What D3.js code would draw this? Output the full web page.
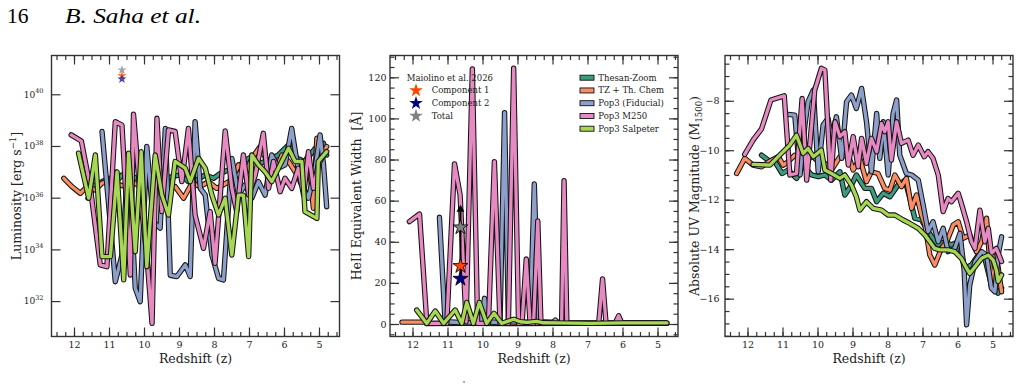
<!DOCTYPE html>
<html>
<head>
<meta charset="utf-8">
<script src="https://cdn.jsdelivr.net/npm/d3@7"></script>
<style>
    body { margin: 0; background: #fff; }
    svg { display: block; font-family: 'DejaVu Serif', serif; }
</style>
</head>
<body>
<div id="chart"></div>
<script>
/* Series and tick values */
const simNames = ['Thesan-Zoom', 'TZ + Th. Chem', 'Pop3 (Fiducial)', 'Pop3 M250', 'Pop3 Salpeter'];
const simColors = ['#3d9b7f', '#fc8d62', '#8da0cb', '#e78ac3', '#a6d854'];

const zTicks = [12, 11, 10, 9, 8, 7, 6, 5];
const lumTickExp = [32, 34, 36, 38, 40];
const ewTicks = [0, 20, 40, 60, 80, 100, 120];
const muvTicks = [-8, -10, -12, -14, -16];

// Maiolino et al. 2026 components
const obsZ = 10.63;
const obsNames = ['Component 1', 'Component 2', 'Total'];
const obsColors = ['#ff4500', '#00008b', '#808080'];
const obsLogL = [40.72, 40.59, 40.94];
const obsEW = [28.2, 22, 47];
const obsArrowEW = [22, 58];

// log10 luminosity [erg/s] vs redshift
const lumTZ = [[11.6,35.98],[11.39,36.5],[11.2,36.62],[11.01,36.75],[10.82,36.56],[10.63,36.88],[10.39,36.69],[10.15,36.82],[9.92,36.62],[9.68,36.75],[9.44,36.69],[9.2,36.82],[8.96,36.88],[8.73,36.62],[8.49,36.69],[8.25,36.88],[8.01,36.75],[7.82,36.94],[7.59,37.07],[7.35,37.07],[7.16,37.4],[6.92,37.59],[6.68,37.33],[6.44,37.46],[6.16,37.65],[5.87,38.04],[5.63,37.52],[5.4,37.4],[5.11,37.91],[4.87,38.1],[4.78,37.65]];
const lumChem = [[12.29,36.75],[12.06,36.43],[11.82,36.17],[11.63,36.43],[11.39,36.3],[11.2,36.56],[10.96,36.65],[10.72,36.5],[10.49,36.43],[10.25,36.56],[10.06,36.36],[9.82,36.5],[9.58,36.62],[9.35,36.36],[9.11,36.43],[8.87,35.98],[8.63,36.56],[8.39,36.43],[8.16,36.62],[7.92,36.36],[7.73,36.5],[7.49,36.69],[7.3,37.27],[7.11,36.88],[6.92,37.52],[6.68,37.98],[6.44,37.27],[6.25,37.0],[6.06,37.65],[5.87,37.4],[5.68,37.0],[5.49,37.14],[5.3,37.65],[5.16,35.59],[5.06,38.3],[4.92,37.65],[4.78,37.98]];
const lumFid = [[11.2,38.56],[11.01,35.72],[10.82,32.75],[10.63,33.78],[10.44,37.52],[10.25,32.5],[10.11,31.98],[9.92,37.98],[9.73,35.07],[9.54,34.82],[9.39,38.68],[9.25,33.0],[9.06,32.95],[8.82,33.4],[8.68,32.95],[8.54,38.94],[8.39,36.36],[8.25,36.1],[8.06,33.78],[7.87,32.88],[7.73,32.82],[7.49,37.52],[7.3,36.1],[7.11,36.5],[6.92,35.98],[6.73,36.62],[6.54,36.1],[6.35,37.65],[6.16,37.14],[5.97,37.27],[5.78,38.68],[5.54,36.62],[5.3,35.98],[5.11,37.14],[4.97,38.43],[4.87,37.27],[4.78,35.65]];
const lumM250 = [[12.08,38.43],[11.79,38.19],[11.53,36.36],[11.25,33.4],[11.06,33.33],[10.82,38.94],[10.63,38.81],[10.39,33.01],[10.3,39.23],[10.11,36.1],[9.92,33.78],[9.77,31.14],[9.63,39.07],[9.49,35.46],[9.3,38.62],[9.11,38.56],[8.92,36.62],[8.73,38.68],[8.54,35.33],[8.3,34.04],[8.11,35.46],[7.97,33.46],[7.68,38.58],[7.49,36.36],[7.35,35.46],[7.16,37.65],[7.01,36.1],[6.82,36.88],[6.59,38.49],[6.44,36.36],[6.3,37.4],[6.11,36.23],[5.97,36.75],[5.78,36.36],[5.59,37.14],[5.44,36.1],[5.3,37.78],[5.16,36.36],[5.02,37.27],[4.87,37.65]];
const lumSalp = [[11.87,37.72],[11.58,35.98],[11.39,37.65],[11.2,33.72],[10.96,33.72],[10.77,37.0],[10.58,32.82],[10.44,37.72],[10.25,33.91],[10.08,37.78],[9.92,33.33],[9.68,37.65],[9.49,36.1],[9.3,35.33],[9.11,37.4],[8.82,37.14],[8.68,36.62],[8.44,37.52],[8.25,37.14],[8.06,36.1],[7.87,35.33],[7.68,35.98],[7.49,33.78],[7.3,36.1],[7.16,36.1],[7.01,33.72],[6.92,37.65],[6.73,37.27],[6.54,37.0],[6.35,36.62],[6.16,37.14],[5.97,37.65],[5.87,37.91],[5.68,37.4],[5.49,37.4],[5.4,35.46],[5.06,35.2],[5.02,37.4],[4.78,37.78]];

// HeII equivalent width [A] vs redshift
const ewTZ = [[11.6,0.2],[10.5,0.3],[9,0.2],[7.5,0.3],[6,0.3],[4.75,0.3]];
const ewChem = [[12.3,0.9],[11.65,0.9],[11.5,0.4],[9,0.3],[7,0.4],[4.75,0.4]];
const ewFid = [[11.23,51.9],[11.07,1.1],[10.5,0.6],[10.05,0.8],[9.94,12.5],[9.83,1.1],[9.5,0.6],[9.37,102.8],[9.26,1.1],[8.64,0.8],[8.52,68.1],[8.4,1.1],[7.5,0.5],[6.5,0.4],[5.5,0.5],[4.75,0.4]];
const ewM250 = [[12.09,49.8],[11.8,53.5],[11.59,0.3],[11.02,0.3],[10.8,77.9],[10.64,62.8],[10.47,1.1],[10.29,124.1],[10.14,0.3],[9.83,0.3],[9.66,79],[9.5,0.3],[9.26,0.3],[9.11,124.4],[8.97,0.3],[8.87,0.3],[8.75,31.6],[8.64,0.3],[8.54,0.3],[8.42,50.1],[8.33,0.3],[8.02,0.3],[7.92,1.9],[7.83,0.3],[7.74,0.3],[7.67,69.7],[7.59,0.3],[6.68,0.3],[6.57,21.9],[6.47,0.3],[6.21,0.3],[6.11,4],[6.02,0.3],[4.73,0.3]];
const ewSalp = [[11.88,6.8],[11.59,0.3],[11.35,6.3],[11.11,0.3],[10.78,6.8],[10.59,0.3],[10.45,10.5],[10.26,0.3],[10.09,10.5],[9.88,0.3],[9.67,5.2],[9.45,0.3],[9.11,2.3],[8.92,1.1],[8.73,0.8],[8.45,1.3],[8.26,0.6],[7.88,0.5],[6.92,0.3],[5.97,0.5],[4.73,0.5]];

// Absolute UV magnitude M1500 vs redshift
const muvTZ = [[11.6,-10.2],[11.41,-10.4],[11.22,-10.46],[11.01,-10.94],[10.84,-10.8],[10.6,-11.14],[10.41,-10.6],[10.17,-11.0],[9.98,-11.07],[9.79,-11.0],[9.6,-11.21],[9.36,-10.87],[9.22,-11.81],[9.03,-11.41],[8.89,-11.0],[8.65,-11.54],[8.46,-11.54],[8.31,-12.08],[8.12,-11.74],[7.93,-11.88],[7.7,-11.41],[7.5,-11.21],[7.36,-11.95],[7.22,-12.75],[7.03,-12.82],[6.89,-13.16],[6.74,-13.49],[6.55,-13.83],[6.36,-13.7],[6.17,-13.83],[5.98,-13.7],[5.79,-14.77],[5.6,-14.64],[5.41,-14.24],[5.22,-14.37],[5.03,-15.45],[4.84,-15.78],[4.74,-15.58]];
const muvChem = [[12.31,-10.94],[12.08,-10.33],[11.84,-10.6],[11.6,-10.67],[11.36,-10.44],[11.12,-10.26],[10.98,-10.6],[10.84,-10.46],[10.65,-10.2],[10.5,-10.26],[10.36,-10.6],[10.17,-10.2],[9.98,-10.46],[9.79,-10.53],[9.6,-10.8],[9.36,-10.26],[9.12,-10.2],[8.98,-10.8],[8.79,-10.33],[8.6,-11.27],[8.46,-10.87],[8.27,-10.94],[8.08,-11.54],[7.93,-11.61],[7.79,-11.0],[7.6,-11.47],[7.46,-11.14],[7.31,-12.35],[7.17,-11.81],[7.03,-12.62],[6.93,-13.02],[6.79,-14.24],[6.65,-14.64],[6.46,-13.97],[6.31,-13.7],[6.12,-13.02],[5.98,-12.89],[5.84,-13.56],[5.65,-13.43],[5.46,-14.1],[5.31,-13.7],[5.17,-12.75],[5.08,-14.5],[5.03,-15.52],[4.89,-14.24],[4.74,-15.72]];
const muvFid = [[10.84,-8.55],[10.65,-8.58],[10.5,-11.0],[10.36,-8.98],[10.27,-8.04],[10.12,-7.57],[9.98,-10.87],[9.84,-8.98],[9.7,-8.71],[9.6,-9.52],[9.46,-8.65],[9.31,-10.33],[9.17,-8.04],[9.03,-7.77],[8.89,-8.31],[8.74,-7.5],[8.6,-8.85],[8.46,-10.87],[8.31,-8.51],[8.22,-10.33],[8.12,-8.85],[7.98,-11.0],[7.84,-8.51],[7.74,-7.97],[7.65,-10.2],[7.46,-10.94],[7.31,-11.0],[7.12,-11.21],[6.98,-12.22],[6.84,-13.29],[6.7,-12.89],[6.55,-13.7],[6.41,-13.16],[6.27,-14.1],[6.08,-13.97],[5.93,-13.36],[5.81,-14.84],[5.74,-17.06],[5.65,-15.45],[5.5,-14.5],[5.31,-14.1],[5.17,-14.24],[5.03,-15.58],[4.93,-15.72],[4.84,-14.24],[4.74,-13.5]];
const muvM250 = [[12.08,-10.17],[11.84,-9.59],[11.6,-9.14],[11.33,-7.97],[10.95,-7.8],[10.79,-11.0],[10.6,-10.94],[10.44,-7.91],[10.31,-11.21],[10.08,-7.57],[9.89,-6.69],[9.79,-6.76],[9.62,-11.21],[9.5,-8.85],[9.36,-9.45],[9.22,-9.25],[9.12,-10.6],[8.98,-9.45],[8.84,-10.67],[8.74,-9.52],[8.6,-10.53],[8.46,-9.52],[8.31,-10.06],[8.17,-8.92],[8.08,-9.25],[7.98,-8.85],[7.89,-10.4],[7.74,-8.85],[7.6,-9.72],[7.41,-9.59],[7.27,-10.2],[7.12,-9.79],[6.95,-10.26],[6.84,-10.06],[6.7,-10.33],[6.55,-11.0],[6.41,-12.48],[6.27,-11.95],[6.17,-12.08],[5.98,-11.74],[5.89,-12.15],[5.74,-12.89],[5.6,-13.7],[5.5,-13.97],[5.36,-12.42],[5.22,-13.7],[5.12,-13.16],[5.03,-14.17],[4.89,-13.97],[4.74,-14.5]];
const muvSalp = [[11.84,-10.57],[11.36,-10.6],[11.08,-10.2],[10.79,-9.79],[10.6,-9.39],[10.41,-10.13],[10.27,-9.93],[10.12,-10.26],[9.89,-9.99],[9.79,-10.8],[9.6,-10.94],[9.36,-11.14],[9.22,-11.0],[9.03,-11.41],[8.89,-11.88],[8.79,-12.42],[8.6,-12.08],[8.41,-12.35],[8.17,-12.42],[7.98,-12.62],[7.79,-12.62],[7.55,-12.82],[7.36,-12.96],[7.12,-13.16],[6.93,-13.43],[6.79,-13.7],[6.65,-13.97],[6.5,-14.03],[6.27,-14.03],[6.08,-14.1],[5.89,-14.37],[5.74,-14.77],[5.65,-14.98],[5.5,-14.71],[5.31,-14.37],[5.12,-14.24],[4.98,-14.44],[4.89,-14.84],[4.84,-15.31],[4.74,-15.04]];

const lumSeries = [lumTZ, lumChem, lumFid, lumM250, lumSalp];
const ewSeries = [ewTZ, ewChem, ewFid, ewM250, ewSalp];
const muvSeries = [muvTZ, muvChem, muvFid, muvM250, muvSalp];

/* Layout */
const W = 1021, H = 390;
const plotTop = 55.5, plotBot = 336.5;
const frames = [{ l: 51.5, r: 339.5 }, { l: 390, r: 678 }, { l: 725, r: 1013 }];
const zDomain = [12.643, 4.414];
const axisColor = '#333';

const svg = d3.select('#chart').append('svg')
    .attr('width', W)
    .attr('height', H);

// page header
svg.append('text')
    .attr('x', 7).attr('y', 23)
    .attr('font-family', 'Liberation Serif, serif')
    .attr('font-size', 21.5)
    .text('16');
svg.append('text')
    .attr('x', 65).attr('y', 23)
    .attr('font-family', 'Liberation Serif, serif')
    .attr('font-style', 'italic')
    .attr('font-size', 21.5)
    .attr('textLength', 136)
    .attr('lengthAdjust', 'spacingAndGlyphs')
    .text('B. Saha et al.');
svg.append('text')
    .attr('x', 464).attr('y', 387)
    .attr('font-size', 7).attr('text-anchor', 'middle')
    .attr('fill', '#444')
    .text('˚');

const xScales = frames.map(f => d3.scaleLinear().domain(zDomain).range([f.l, f.r]));
const yLum = d3.scaleLog().domain([Math.pow(10, 30.63), Math.pow(10, 41.5)]).range([plotBot, plotTop]);
const yEW = d3.scaleLinear().domain([-6.08, 130.6]).range([plotBot, plotTop]);
const yMuv = d3.scaleLinear().domain([-17.53, -6.17]).range([plotBot, plotTop]);

const minorZ = d3.range(18, 51).map(i => i / 4);

function styleAxis(g) {
    g.select('.domain').remove();
    g.selectAll('line').attr('stroke', axisColor).attr('stroke-width', 1.2);
    g.selectAll('text').attr('fill', '#222').attr('font-family', 'DejaVu Serif, serif');
}

function drawAxes(i, y, opts) {
    const f = frames[i];
    const x = xScales[i];
    const g = svg.append('g');

    g.append('g').attr('transform', `translate(0,${plotBot})`)
        .call(d3.axisBottom(x).tickValues(minorZ).tickSize(-4.5).tickFormat(''))
        .call(styleAxis);
    g.append('g').attr('transform', `translate(0,${plotBot})`)
        .call(d3.axisBottom(x).tickValues(zTicks).tickSize(-9).tickPadding(4.5).tickFormat(d3.format('d')))
        .call(styleAxis)
        .selectAll('text').attr('font-size', 9.5);
    g.append('g').attr('transform', `translate(0,${plotTop})`)
        .call(d3.axisTop(x).tickValues(minorZ).tickSize(-4.5).tickFormat(''))
        .call(styleAxis);
    g.append('g').attr('transform', `translate(0,${plotTop})`)
        .call(d3.axisTop(x).tickValues(zTicks).tickSize(-9).tickFormat(''))
        .call(styleAxis);

    if (opts.minor) {
        g.append('g').attr('transform', `translate(${f.l},0)`)
            .call(d3.axisLeft(y).tickValues(opts.minor).tickSize(-4.5).tickFormat(''))
            .call(styleAxis);
        g.append('g').attr('transform', `translate(${f.r},0)`)
            .call(d3.axisRight(y).tickValues(opts.minor).tickSize(-4.5).tickFormat(''))
            .call(styleAxis);
    }
    const left = g.append('g').attr('transform', `translate(${f.l},0)`)
        .call(d3.axisLeft(y).tickValues(opts.major).tickSize(-9).tickPadding(opts.pad).tickFormat(opts.format))
        .call(styleAxis);
    left.selectAll('text').attr('font-size', 9.5);
    if (opts.afterLabels) opts.afterLabels(left);
    g.append('g').attr('transform', `translate(${f.r},0)`)
        .call(d3.axisRight(y).tickValues(opts.major).tickSize(-9).tickFormat(''))
        .call(styleAxis);

    g.append('rect')
        .attr('x', f.l).attr('y', plotTop)
        .attr('width', f.r - f.l).attr('height', plotBot - plotTop)
        .attr('fill', 'none')
        .attr('stroke', axisColor)
        .attr('stroke-width', 1.4);

    svg.append('text')
        .attr('x', (f.l + f.r) / 2).attr('y', 363)
        .attr('text-anchor', 'middle')
        .attr('font-size', 12.5)
        .attr('fill', '#222')
        .text('Redshift (z)');

    return g;
}

function drawLines(i, series, yAcc) {
    const x = xScales[i];
    const f = frames[i];
    const clipId = 'clip' + i;
    svg.append('clipPath').attr('id', clipId)
        .append('rect')
        .attr('x', f.l).attr('y', plotTop)
        .attr('width', f.r - f.l).attr('height', plotBot - plotTop);

    const line = d3.line().x(d => x(d[0])).y(yAcc);
    const g = svg.append('g').attr('clip-path', `url(#${clipId})`);

    series.forEach((data, k) => {
        g.append('path')
            .datum(data)
            .attr('d', line)
            .attr('fill', 'none')
            .attr('stroke', '#151515')
            .attr('stroke-width', 5.4)
            .attr('stroke-linejoin', 'round')
            .attr('stroke-linecap', 'round');
        g.append('path')
            .datum(data)
            .attr('d', line)
            .attr('fill', 'none')
            .attr('stroke', simColors[k])
            .attr('stroke-width', 3.3)
            .attr('stroke-linejoin', 'round')
            .attr('stroke-linecap', 'round');
    });
    return g;
}

function yLabel(xPos, build) {
    const t = svg.append('text')
        .attr('transform', `translate(${xPos},196) rotate(-90)`)
        .attr('text-anchor', 'middle')
        .attr('font-size', 12.5)
        .attr('fill', '#222');
    build(t);
}

function starPath(size) {
    return d3.symbol().type(d3.symbolStar).size(size)();
}

/* Panel 1: luminosity */
drawLines(0, lumSeries, d => yLum(Math.pow(10, d[1])));
drawAxes(0, yLum, {
    major: lumTickExp.map(e => Math.pow(10, e)),
    pad: 8,
    format: () => '',
    afterLabels: g => g.selectAll('text').each(function (d) {
        const t = d3.select(this);
        t.text('10').attr('font-size', 9);
        t.append('tspan').attr('dy', -4.5).attr('font-size', 6.5)
            .text(Math.round(Math.log10(d)));
    })
});
[2, 0, 1].forEach(k => {
    svg.append('path')
        .attr('d', starPath(28))
        .attr('transform', `translate(${xScales[0](obsZ)},${yLum(Math.pow(10, obsLogL[k]))})`)
        .attr('fill', obsColors[k])
        .attr('opacity', 0.7);
});
yLabel(21, t => {
    t.append('tspan').text('Luminosity [erg s');
    t.append('tspan').attr('dy', -5).attr('font-size', 8.5).text('−1');
    t.append('tspan').attr('dy', 5).text(']');
});

/* Panel 2: HeII equivalent width */
drawLines(1, ewSeries, d => yEW(d[1]));
drawAxes(1, yEW, {
    major: ewTicks,
    minor: d3.range(-5, 131, 5),
    pad: 3.5,
    format: d3.format('d')
});
const ax2 = xScales[1];
svg.append('line')
    .attr('x1', ax2(obsZ)).attr('x2', ax2(obsZ))
    .attr('y1', yEW(obsArrowEW[0])).attr('y2', yEW(obsArrowEW[1]) + 7)
    .attr('stroke', '#000').attr('stroke-width', 2);
svg.append('path')
    .attr('d', d3.line()([
        [ax2(obsZ) - 4, yEW(obsArrowEW[1]) + 7],
        [ax2(obsZ) + 4, yEW(obsArrowEW[1]) + 7],
        [ax2(obsZ), yEW(obsArrowEW[1])]
    ]) + 'Z')
    .attr('fill', '#000');
[2, 0, 1].forEach(k => {
    svg.append('path')
        .attr('d', starPath(70))
        .attr('transform', `translate(${ax2(obsZ)},${yEW(obsEW[k])})`)
        .attr('fill', obsColors[k])
        .attr('stroke', '#000')
        .attr('stroke-width', 0.8);
});
yLabel(361, t => t.text('HeII Equivalent Width\u00a0\u00a0[Å]'));

// legends
const legRow = 12.75, legTop = 77.7;
svg.append('text')
    .attr('x', 406.7).attr('y', legTop).attr('dy', '0.35em')
    .attr('font-size', 8.5).attr('fill', '#222')
    .text('Maiolino et al. 2026');
obsNames.forEach((name, k) => {
    const yy = legTop + legRow * (k + 1);
    svg.append('path')
        .attr('d', starPath(58))
        .attr('transform', `translate(416,${yy})`)
        .attr('fill', obsColors[k]);
    svg.append('text')
        .attr('x', 431.7).attr('y', yy).attr('dy', '0.35em')
        .attr('font-size', 8.5).attr('fill', '#222')
        .text(name);
});
simNames.forEach((name, k) => {
    const yy = legTop + legRow * k;
    svg.append('rect')
        .attr('x', 580).attr('y', yy - 2.5)
        .attr('width', 14).attr('height', 5)
        .attr('fill', simColors[k])
        .attr('stroke', '#111').attr('stroke-width', 0.9);
    svg.append('text')
        .attr('x', 598.3).attr('y', yy).attr('dy', '0.35em')
        .attr('font-size', 8.5).attr('fill', '#222')
        .text(name);
});

/* Panel 3: absolute UV magnitude */
drawLines(2, muvSeries, d => yMuv(d[1]));
drawAxes(2, yMuv, {
    major: muvTicks,
    minor: d3.range(-17.5, -6.0, 0.5),
    pad: 5.5,
    format: d => '−' + Math.abs(d)
});
yLabel(699, t => {
    t.append('tspan').text('Absolute UV Magnitude (M');
    t.append('tspan').attr('dy', 3).attr('font-size', 8.5).text('1500');
    t.append('tspan').attr('dy', -3).text(')');
});
</script>
</body>
</html>
